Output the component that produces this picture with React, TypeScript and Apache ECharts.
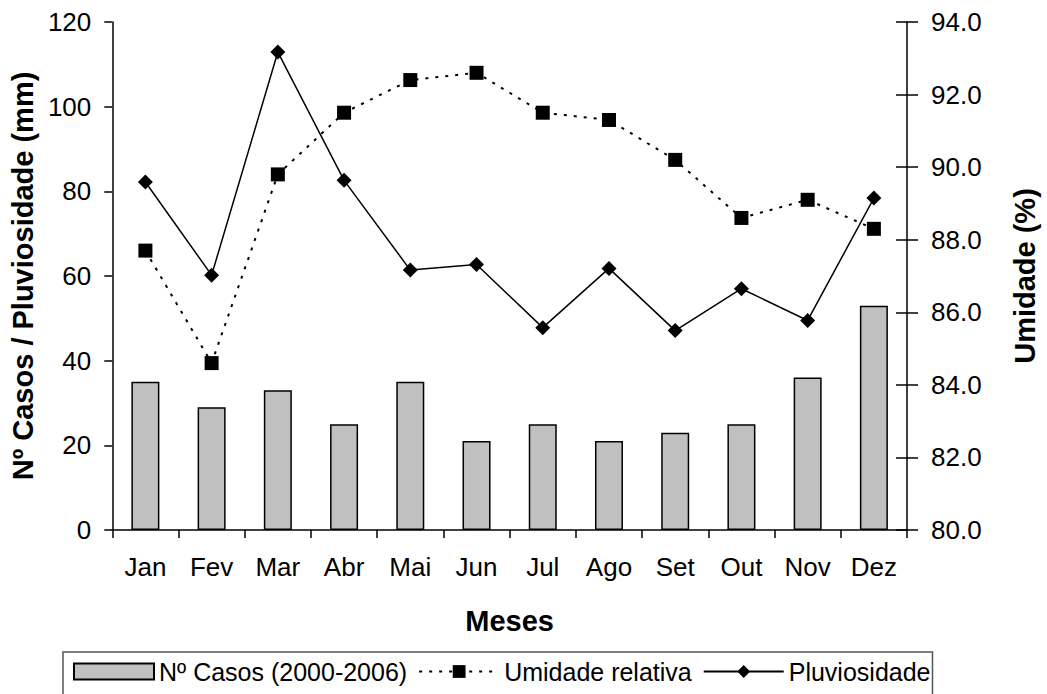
import React, { useEffect, useRef } from "react";
import * as echarts from "echarts";

const months = ["Jan", "Fev", "Mar", "Abr", "Mai", "Jun", "Jul", "Ago", "Set", "Out", "Nov", "Dez"];
const casos = [35, 29, 33, 25, 35, 21, 25, 21, 23, 25, 36, 53];
const umidade = [87.7, 84.6, 89.8, 91.5, 92.4, 92.6, 91.5, 91.3, 90.2, 88.6, 89.1, 88.3];
const pluviosidade = [82.2, 60.2, 112.9, 82.6, 61.4, 62.7, 47.8, 61.8, 47.1, 57.0, 49.5, 78.4];

const FONT = "Liberation Sans, Arial, sans-serif";

export default function App() {
  const ref = useRef<HTMLDivElement>(null);
  useEffect(() => {
    if (!ref.current) return;
    const chart = echarts.init(ref.current, null, { renderer: "svg" });
    const axisLine = { show: true, lineStyle: { color: "#000", width: 1.5 } };
    const titleStyle = { color: "#000", fontSize: 29, fontWeight: "bold", fontFamily: FONT };
    chart.setOption({
      animation: false,
      backgroundColor: "#fff",
      textStyle: { fontFamily: FONT },
      grid: { left: 111, right: 133, top: 22, bottom: 164, containLabel: false },
      legend: {
        left: 63,
        top: 652,
        orient: "horizontal",
        itemGap: 11,
        itemWidth: 80,
        itemHeight: 16,
        padding: [7, 2, 30, 10],
        borderColor: "#555",
        borderWidth: 1.5,
        textStyle: { fontSize: 25, color: "#000", fontFamily: FONT },
        data: [
          { name: "Nº Casos (2000-2006)", icon: "rect" },
          { name: "Umidade relativa" },
          { name: "Pluviosidade" },
        ],
      },
      xAxis: {
        type: "category",
        data: months,
        boundaryGap: true,
        axisLine,
        axisTick: { show: true, length: 8, lineStyle: { color: "#000", width: 1.5 } },
        axisLabel: { color: "#000", fontSize: 26, margin: 24, fontFamily: FONT },
        name: "Meses",
        nameLocation: "middle",
        nameGap: 76,
        nameTextStyle: titleStyle,
      },
      yAxis: [
        {
          type: "value",
          min: 0,
          max: 120,
          interval: 20,
          position: "left",
          axisLine,
          axisTick: { show: true, length: 8, lineStyle: { color: "#000", width: 1.5 } },
          axisLabel: { color: "#000", fontSize: 26, margin: 21, fontFamily: FONT },
          splitLine: { show: false },
          name: "Nº Casos / Pluviosidade (mm)",
          nameLocation: "middle",
          nameGap: 72,
          nameRotate: 90,
          nameTextStyle: titleStyle,
        },
        {
          type: "value",
          min: 80,
          max: 94,
          interval: 2,
          position: "right",
          axisLine,
          axisTick: { show: true, length: 11, lineStyle: { color: "#000", width: 1.5 } },
          axisLabel: {
            color: "#000",
            fontSize: 26,
            margin: 24,
            fontFamily: FONT,
            formatter: (v: number) => v.toFixed(1),
          },
          splitLine: { show: false },
          name: "Umidade (%)",
          nameLocation: "middle",
          nameGap: 103,
          nameRotate: 90,
          nameTextStyle: titleStyle,
        },
        {
          type: "value",
          min: 80,
          max: 94,
          interval: 2,
          position: "right",
          axisLine: { show: false },
          axisTick: { show: true, inside: true, length: 11, lineStyle: { color: "#000", width: 1.5 } },
          axisLabel: { show: false },
          splitLine: { show: false },
        },
      ],
      series: [
        {
          name: "Nº Casos (2000-2006)",
          type: "bar",
          data: casos,
          barWidth: 28,
          yAxisIndex: 0,
          itemStyle: { color: "#c0c0c0", borderColor: "#000", borderWidth: 1.5 },
        },
        {
          name: "Umidade relativa",
          type: "line",
          data: umidade,
          yAxisIndex: 1,
          symbol: "rect",
          symbolSize: 14,
          itemStyle: { color: "#000" },
          lineStyle: { color: "#000", width: 2, type: [3, 7] },
          z: 3,
        },
        {
          name: "Pluviosidade",
          type: "line",
          data: pluviosidade,
          yAxisIndex: 0,
          symbol: "diamond",
          symbolSize: 15,
          itemStyle: { color: "#000" },
          lineStyle: { color: "#000", width: 1.5, type: "solid" },
          z: 4,
        },
      ],
    });
    return () => chart.dispose();
  }, []);
  return (
    <div
      ref={ref}
      style={{ position: "fixed", left: 0, top: 0, width: 1047, height: 694, background: "#fff" }}
    />
  );
}
